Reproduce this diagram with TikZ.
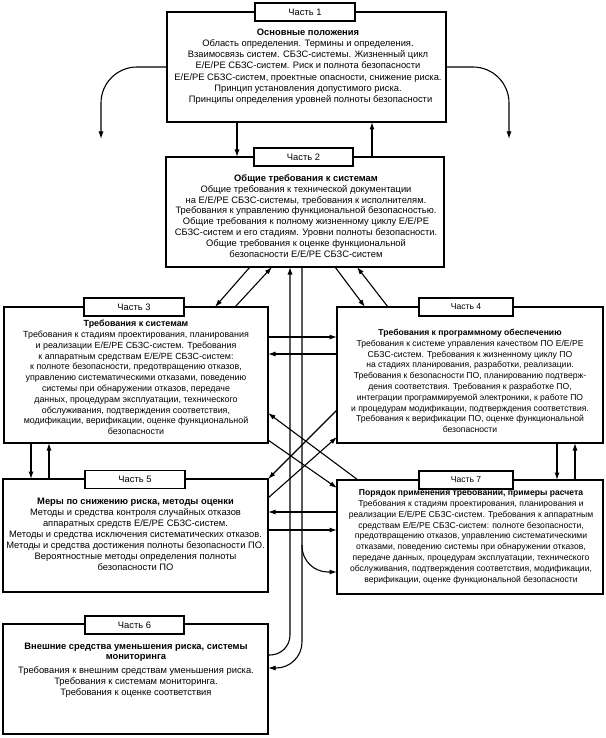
\documentclass[tikz,border=0pt]{standalone}
\usepackage{fontspec}
\setmainfont{Liberation Sans}
\usetikzlibrary{arrows.meta,calc}
\begin{document}
\begin{tikzpicture}[x=1pt,y=-1pt,
  every node/.style={font=\fontsize{8.6}{10.8}\selectfont},
  big/.style={font=\fontsize{9.35}{#1}\selectfont},
  box/.style={draw,line width=1.2pt,anchor=north west,inner sep=0,outer sep=0},
  lab/.style={draw,fill=white,line width=1.2pt,minimum height=18pt,inner sep=0,outer sep=0},
  txt/.style={align=center,anchor=north,inner sep=0},
  arr/.style={line width=1.1pt,-{Latex[length=7.5pt,width=5pt]}}]
\useasboundingbox (0,0) rectangle (605,738);
% helper coordinates
\foreach \x in {31,49,215,235,237,250,272,290,302,335,357,358,365,372,388,557,575}{\coordinate (X\x) at (\x,0);}
\foreach \y in {337,354,410,413,437,440,488,498,512,530,572,655,668}{\coordinate (Y\y) at (0,\y);}
% boxes
\node[box,minimum width=279pt,minimum height=110pt] (b1) at (167,12) {};
\node[box,minimum width=278pt,minimum height=110pt] (b2) at (166,157) {};
\node[box,line width=2.4pt,minimum width=264pt,minimum height=136pt] (b3) at (4,307) {};
\node[box,minimum width=266pt,minimum height=136pt] (b4) at (337,307) {};
\node[box,minimum width=265pt,minimum height=113pt] (b5) at (3,479) {};
\node[box,minimum width=266pt,minimum height=114pt] (b7) at (337,480) {};
\node[box,minimum width=265pt,minimum height=110pt] (b6) at (3,624) {};
% connectors
\coordinate (e1) at (101,139);
\coordinate (e2) at (509,139);
\coordinate (j) at (302,545);
\draw[arr,rounded corners=36pt] (b1.west) -| (e1);
\draw[arr,rounded corners=36pt] (b1.east) -| (e2);
\draw[arr] (b1.south -| X237) -- (b2.north -| X237);
\draw[arr] (b2.north -| X372) -- (b1.south -| X372);
\draw[arr] (b2.south -| X250) -- (b3.north -| X215);
\draw[arr] (b3.north -| X235) -- (b2.south -| X272);
\draw[arr] (b2.south -| X335) -- (b4.north -| X365);
\draw[arr] (b4.north -| X388) -- (b2.south -| X357);
\draw[arr] (b3.east |- Y337) -- (b4.west |- Y337);
\draw[arr] (b4.west |- Y354) -- (b3.east |- Y354);
\draw[arr] (b3.south -| X31) -- (b5.north -| X31);
\draw[arr] (b5.north -| X49) -- (b3.south -| X49);
\draw[arr] (b4.south -| X557) -- (b7.north -| X557);
\draw[arr] (b7.north -| X575) -- (b4.south -| X575);
\draw[arr] (b7.west |- Y512) -- (b5.east |- Y512);
\draw[arr] (b5.east |- Y530) -- (b7.west |- Y530);
\draw[arr] (b7.north -| X358) -- (b3.east |- Y413);
\draw[arr] (b3.east |- Y440) -- (b7.west |- Y488);
\draw[arr] (b4.west |- Y410) -- (b5.north east);
\draw[arr] (b5.east |- Y498) -- (b4.west |- Y437);
\draw[arr,rounded corners=20pt] (b6.east |- Y655) -| (b2.south -| X290);
\draw[arr,rounded corners=26pt] (b2.south -| X302) |- (b6.east |- Y668);
\draw[arr,rounded corners=26pt] (j) |- (b7.west |- Y572);
% labels
\node[lab,big=11,minimum width=100pt] (l1) at (305,12) {Часть 1};
\node[lab,big=11,minimum width=99pt] (l2) at (303.5,157) {Часть 2};
\node[lab,big=11,line width=2.4pt,minimum width=100pt] (l3) at (134,307) {Часть 3};
\node[lab,minimum width=94pt] (l4) at (466,307) {Часть 4};
\node[lab,big=11,minimum width=100pt] (l5) at (135,479.5) {Часть 5};
\node[lab,minimum width=94pt] (l7) at (466,480) {Часть 7};
\node[lab,big=11,minimum width=99pt] (l6) at (134.5,625) {Часть 6};
% texts
\node[txt,big=11.2] (t1) at (308,28.5) {\textbf{Основные положения}\\
Область определения. Термины и определения.\\
Взаимосвязь систем. СБЗС-системы. Жизненный цикл\\
E/E/PE СБЗС-систем. Риск и полнота безопасности\\
E/E/PE СБЗС-систем, проектные опасности, снижение риска.\\
Принцип установления допустимого риска.\\
\ \ Принципы определения уровней полноты безопасности};
\node[txt,big=10.8] (t2) at (306,174.5) {\textbf{Общие требования к системам}\\
Общие требования к технической документации\\
на E/E/PE СБЗС-системы, требования к исполнителям.\\
Требования к управлению функциональной безопасностью.\\
Общие требования к полному жизненному циклу E/E/PE\\
СБЗС-систем и его стадиям. Уровни полноты безопасности.\\
Общие требования к оценке функциональной\\
безопасности E/E/PE СБЗС-систем};
\node[txt,font=\fontsize{8.9}{10.8}\selectfont] (t3) at (136,320) {\textbf{Требования к системам}\\
Требования к стадиям проектирования, планирования\\
и реализации E/E/PE СБЗС-систем. Требования\\
к аппаратным средствам E/E/PE СБЗС-систем:\\
к полноте безопасности, предотвращению отказов,\\
управлению систематическими отказами, поведению\\
системы при обнаружении отказов, передаче\\
данных, процедурам эксплуатации, технического\\
обслуживания, подтверждения соответствия,\\
модификации, верификации, оценке функциональной\\
безопасности};
\node[txt] (t4) at (470,329) {\textbf{Требования к программному обеспечению}\\
Требования к системе управления качеством ПО E/E/PE\\
СБЗС-систем. Требования к жизненному циклу ПО\\
на стадиях планирования, разработки, реализации.\\
Требования к безопасности ПО, планированию подтверж-\\
дения соответствия. Требования к разработке ПО,\\
интеграции программируемой электроники, к работе ПО\\
и процедурам модификации, подтверждения соответствия.\\
Требования к верификации ПО, оценке функциональной\\
безопасности};
\node[txt,big=11] (t5) at (135.5,497.5) {\textbf{Меры по снижению риска, методы оценки}\\
Методы и средства контроля случайных отказов\\
аппаратных средств E/E/PE СБЗС-систем.\\
Методы и средства исключения систематических отказов.\\
Методы и средства достижения полноты безопасности ПО.\\
Вероятностные методы определения полноты\\
безопасности ПО};
\node[txt] (t7) at (471,489) {\textbf{Порядок применения требований, примеры расчета}\\
Требования к стадиям проектирования, планирования и\\
реализации E/E/PE СБЗС-систем. Требования к аппаратным\\
средствам E/E/PE СБЗС-систем: полноте безопасности,\\
предотвращению отказов, управлению систематическими\\
отказами, поведению системы при обнаружении отказов,\\
передаче данных, процедурам эксплуатации, технического\\
обслуживания, подтверждения соответствия, модификации,\\
верификации, оценке функциональной безопасности};
\node[txt,big=10.8] (t6) at (136,642.5) {\textbf{Внешние средства уменьшения риска, системы}\\
\textbf{мониторинга}\\[3pt]
Требования к внешним средствам уменьшения риска.\\
Требования к системам мониторинга.\\
Требования к оценке соответствия};
\end{tikzpicture}
\end{document}
